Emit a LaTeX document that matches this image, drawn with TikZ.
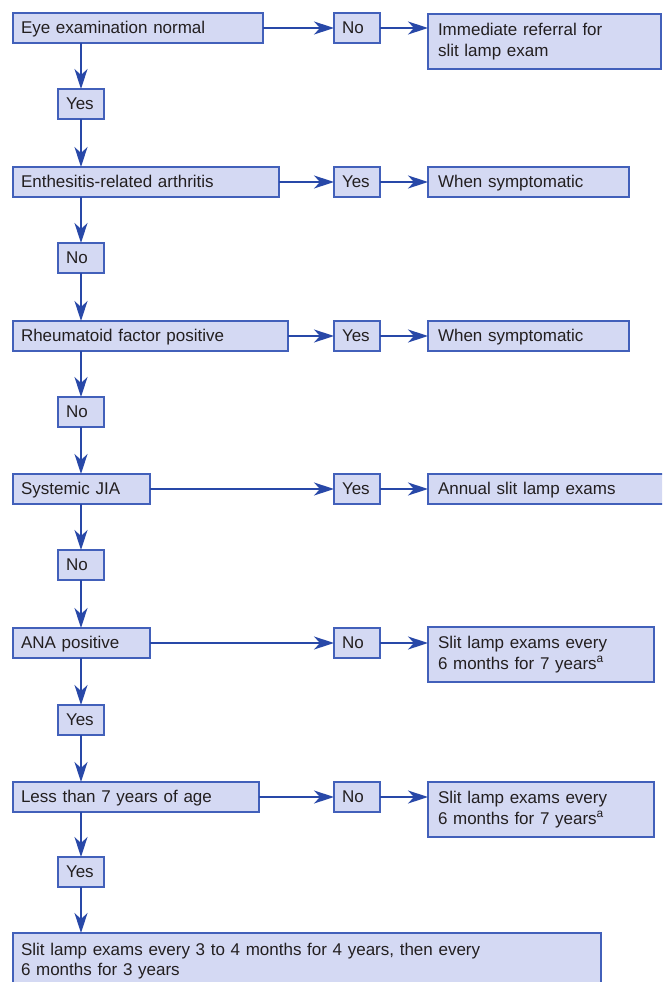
\documentclass[tikz,border=0pt]{standalone}
\usepackage{fontspec}
\setmainfont{Liberation Sans}
\usetikzlibrary{arrows.meta}
\definecolor{boxfill}{RGB}{212,217,243}
\definecolor{boxline}{RGB}{66,96,186}
\definecolor{arrowcol}{RGB}{40,72,168}
\definecolor{inkcol}{RGB}{35,31,32}

\begin{document}
\begin{tikzpicture}[x=1pt,y=-1pt,
  box/.style={draw=boxline, fill=boxfill, line width=1.4pt, anchor=north west,
    outer sep=0pt, inner xsep=8pt, inner ysep=0pt, minimum height=30pt,
    align=left, text=inkcol, font=\fontsize{17}{20.5}\selectfont},
  oneline/.style={box, text height=12pt, text depth=1.5pt, text width=#1},
  answer/.style={oneline=30pt},
  outcome/.style={box, inner xsep=10pt, text width=#1},
  flow/.style={draw=arrowcol, line width=1.4pt,
    -{Stealth[length=20pt,width=13pt,inset=6pt]}}
]
\clip (0,0) rectangle (662,982);
\fill[white] (0,0) rectangle (662,982);

% questions down the left
\node[oneline=234pt] (q1) at (13,13)  {Eye examination normal};
\node[oneline=250pt] (q2) at (13,167) {Enthesitis-related arthritis};
\node[oneline=259pt] (q3) at (13,321) {Rheumatoid factor positive};
\node[oneline=121pt] (q4) at (13,474) {Systemic JIA};
\node[oneline=121pt] (q5) at (13,628) {ANA positive};
\node[oneline=230pt] (q6) at (13,782) {Less than 7 years of age};

% answers leading down
\node[answer] (d1) at (58,89)  {Yes};
\node[answer] (d2) at (58,243) {No};
\node[answer] (d3) at (58,397) {No};
\node[answer] (d4) at (58,550) {No};
\node[answer] (d5) at (58,705) {Yes};
\node[answer] (d6) at (58,857) {Yes};

% answers leading right
\node[answer] (a1) at (334,13)  {No};
\node[answer] (a2) at (334,167) {Yes};
\node[answer] (a3) at (334,321) {Yes};
\node[answer] (a4) at (334,474) {Yes};
\node[answer] (a5) at (334,628) {No};
\node[answer] (a6) at (334,782) {No};

% outcomes
\node[outcome=213pt, minimum height=55pt] (o1) at (428,14) {Immediate referral for\\slit lamp exam};
\node[outcome=181pt, text height=12pt, text depth=1.5pt] (o2) at (428,167) {When symptomatic};
\node[outcome=181pt, text height=12pt, text depth=1.5pt] (o3) at (428,321) {When symptomatic};
\node[outcome=230pt, text height=12pt, text depth=1.5pt] (o4) at (428,474) {Annual slit lamp exams};
\node[outcome=206pt, minimum height=55pt] (o5) at (428,627) {Slit lamp exams every\\6 months for 7 years\textsuperscript{a}};
\node[outcome=206pt, minimum height=55pt] (o6) at (428,782) {Slit lamp exams every\\6 months for 7 years\textsuperscript{a}};
\node[box, text width=572pt, inner ysep=10pt, minimum height=0pt] (fin) at (13,933)
  {Slit lamp exams every 3 to 4 months for 4 years, then every\\6 months for 3 years};

% downward connectors
\draw[flow] (d1.north |- q1.south) -- (d1.north);
\draw[flow] (d1.south) -- (d1.south |- q2.north);
\draw[flow] (d2.north |- q2.south) -- (d2.north);
\draw[flow] (d2.south) -- (d2.south |- q3.north);
\draw[flow] (d3.north |- q3.south) -- (d3.north);
\draw[flow] (d3.south) -- (d3.south |- q4.north);
\draw[flow] (d4.north |- q4.south) -- (d4.north);
\draw[flow] (d4.south) -- (d4.south |- q5.north);
\draw[flow] (d5.north |- q5.south) -- (d5.north);
\draw[flow] (d5.south) -- (d5.south |- q6.north);
\draw[flow] (d6.north |- q6.south) -- (d6.north);
\draw[flow] (d6.south) -- (d6.south |- fin.north);

% rightward connectors
\foreach \i in {1,...,6}{
  \draw[flow] (q\i.east) -- (q\i.east -| a\i.west);
  \draw[flow] (a\i.east) -- (a\i.east -| o\i.west);
}
\end{tikzpicture}
\end{document}
